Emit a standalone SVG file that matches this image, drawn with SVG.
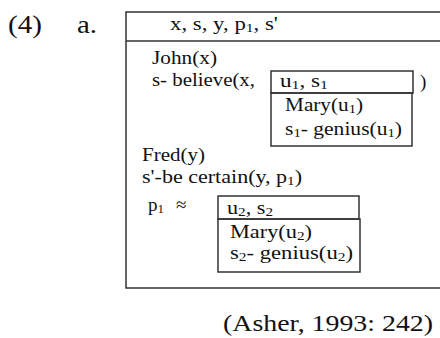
<svg xmlns="http://www.w3.org/2000/svg" width="440" height="338" viewBox="0 0 440 338">
<style>
.t{font-family:"Liberation Serif","Times New Roman",serif;font-size:19px;fill:#111}
.b{fill:none;stroke:#333;stroke-width:1.5}
.s{font-size:13px}
</style>
<rect width="440" height="338" fill="#fff"/>
<text class="t" x="8" y="33" style="font-size:25px" textLength="34" lengthAdjust="spacingAndGlyphs">(4)</text>
<text class="t" x="77" y="33" style="font-size:25px" textLength="20" lengthAdjust="spacingAndGlyphs">a.</text>
<g id="main-drs">
<path class="b" d="M442 12 H126 V288 H442 M126 41 H442"/>
<text class="t" x="170" y="30" textLength="108" lengthAdjust="spacingAndGlyphs">x, s, y,  p<tspan class="s" dy="2">1</tspan><tspan dy="-2">, s'</tspan></text>
<text class="t" x="152" y="64" textLength="65" lengthAdjust="spacingAndGlyphs">John(x)</text>
<text class="t" x="152" y="86" textLength="103" lengthAdjust="spacingAndGlyphs">s- believe(x,</text>
<text class="t" x="420" y="88">)</text>
<text class="t" x="142" y="161" textLength="63" lengthAdjust="spacingAndGlyphs">Fred(y)</text>
<text class="t" x="142" y="183" textLength="160" lengthAdjust="spacingAndGlyphs">s'-be certain(y, p<tspan class="s" dy="2">1</tspan><tspan dy="-2">)</tspan></text>
<text class="t" x="148" y="211">p<tspan class="s" dy="2">1</tspan><tspan dy="-2" x="176">≈</tspan></text>
</g>
<g id="drs-u1">
<rect class="b" x="271" y="71" width="142" height="22"/>
<rect class="b" x="271" y="93" width="141" height="53"/>
<text class="t" x="280" y="87" textLength="48" lengthAdjust="spacingAndGlyphs">u<tspan class="s" dy="2">1</tspan><tspan dy="-2">, s</tspan><tspan class="s" dy="2">1</tspan></text>
<text class="t" x="285" y="111" textLength="78" lengthAdjust="spacingAndGlyphs">Mary(u<tspan class="s" dy="2">1</tspan><tspan dy="-2">)</tspan></text>
<text class="t" x="285" y="135" textLength="117" lengthAdjust="spacingAndGlyphs">s<tspan class="s" dy="2">1</tspan><tspan dy="-2">- genius(u</tspan><tspan class="s" dy="2">1</tspan><tspan dy="-2">)</tspan></text>
</g>
<g id="drs-u2">
<rect class="b" x="218" y="196" width="141" height="23"/>
<rect class="b" x="218" y="219" width="142" height="53"/>
<text class="t" x="227" y="214" textLength="46" lengthAdjust="spacingAndGlyphs">u<tspan class="s" dy="2">2</tspan><tspan dy="-2">, s</tspan><tspan class="s" dy="2">2</tspan></text>
<text class="t" x="230" y="238" textLength="82" lengthAdjust="spacingAndGlyphs">Mary(u<tspan class="s" dy="2">2</tspan><tspan dy="-2">)</tspan></text>
<text class="t" x="230" y="259" textLength="123" lengthAdjust="spacingAndGlyphs">s<tspan class="s" dy="2">2</tspan><tspan dy="-2">- genius(u</tspan><tspan class="s" dy="2">2</tspan><tspan dy="-2">)</tspan></text>
</g>
<text class="t" x="223" y="331" style="font-size:24px" textLength="210" lengthAdjust="spacingAndGlyphs">(Asher, 1993: 242)</text>
</svg>
